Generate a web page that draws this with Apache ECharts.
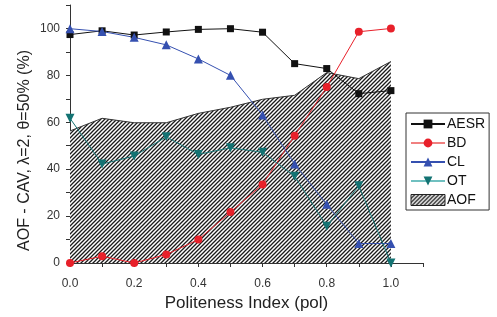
<!DOCTYPE html>
<html><head><meta charset="utf-8">
<script src="https://cdn.jsdelivr.net/npm/echarts@6/dist/echarts.min.js"></script>
<style>html,body{margin:0;padding:0;background:#fff}#c{width:497px;height:317px}</style>
</head><body><div id="c"></div>
<script>
var pol = [0.0, 0.1, 0.2, 0.3, 0.4, 0.5, 0.6, 0.7, 0.8, 0.9, 1.0];
var AESR = [97.4, 99.0, 97.2, 98.5, 99.6, 99.9, 98.4, 85.0, 82.9, 72.2, 73.5];
var BD   = [0.0, 2.9, 0.0, 3.6, 10.0, 21.7, 33.5, 54.3, 75.0, 98.6, 100.0];
var CL   = [99.9, 98.7, 96.2, 93.0, 87.0, 80.0, 63.1, 42.2, 25.0, 8.3, 8.3];
var OT   = [61.7, 42.2, 45.6, 53.8, 46.3, 49.1, 47.2, 37.0, 15.7, 32.9, 0.0];
var AOF  = [56.3, 61.7, 59.8, 59.8, 63.8, 66.4, 69.8, 71.5, 81.2, 78.6, 85.9];
var xTickLabels = ['0.0','0.2','0.4','0.6','0.8','1.0'];
var yTickLabels = ['0','20','40','60','80','100'];
var yTitle = 'AOF - CAV, λ=2, θ=50% (%)';
var xTitle = 'Politeness Index (pol)';

function pairs(v){ return pol.map(function(x,i){ return [x, v[i]]; }); }

var cv = document.createElement('canvas');
cv.width = 4; cv.height = 4;
var g = cv.getContext('2d');
g.fillStyle = '#ffffff'; g.fillRect(0,0,4,4);
g.strokeStyle = '#1a1a1a'; g.lineWidth = 1.3;
g.beginPath();
g.moveTo(-1,5); g.lineTo(5,-1);
g.moveTo(-1,1); g.lineTo(1,-1);
g.moveTo(3,5); g.lineTo(5,3);
g.stroke();
var hatch = {image: cv, repeat: 'repeat'};

var font = 'Liberation Sans, Arial, sans-serif';
var chart = echarts.init(document.getElementById('c'), null, {renderer:'canvas'});
function lineSeries(name, data, color, symbol, size, rot){
  return {name:name, type:'line', data:pairs(data), symbol:symbol, symbolSize:size, symbolRotate:rot||0,
    lineStyle:{color:color, width:1}, itemStyle:{color:color}, z:3, animation:false};
}
chart.setOption({
  animation:false,
  grid:{left:70, right:74, top:5, bottom:54},
  graphic:[{type:'text', left:17, top:50, rotation:Math.PI/2,
    style:{text:yTitle, font:'16px Liberation Sans, Arial, sans-serif', fill:'#222'}}],
  legend:{
    orient:'vertical', left:406, top:113, width:81,
    backgroundColor:'#fff', borderColor:'#333', borderWidth:1,
    padding:[4,4,3,4], itemGap:5, itemWidth:34, itemHeight:11,
    textStyle:{fontFamily:font, fontSize:14, color:'#111', lineHeight:12, padding:[0,0,0,-3]},
    data:[
      {name:'AESR'},
      {name:'BD', lineStyle:{color:'#f08080'}},
      {name:'CL'},
      {name:'OT', lineStyle:{color:'#70c0c0'}},
      {name:'AOF', icon:'rect', itemStyle:{color:hatch, borderColor:'#222', borderWidth:1}}
    ]
  },
  xAxis:{
    type:'value', min:0, max:1.1, interval:0.1,
    name:xTitle, nameLocation:'middle', nameGap:30,
    nameTextStyle:{fontFamily:font, fontSize:17, color:'#222'},
    axisLine:{lineStyle:{color:'#333'}},
    axisTick:{length:4, lineStyle:{color:'#333'}},
    splitLine:{show:false},
    axisLabel:{fontFamily:font, fontSize:12, color:'#333', margin:15,
      formatter:function(v){ var k=Math.round(v*10); if(k%2!==0||k>10) return ''; return xTickLabels[k/2]; }}
  },
  yAxis:{
    type:'value', min:0, max:110, interval:10,
    axisLine:{show:true, lineStyle:{color:'#333'}},
    axisTick:{show:true, length:4, lineStyle:{color:'#333'}},
    splitLine:{show:false},
    axisLabel:{fontFamily:font, fontSize:12, color:'#333', margin:10,
      formatter:function(v){ var k=Math.round(v/10); if(k%2!==0||k>10) return ''; return yTickLabels[k/2]; }}
  },
  series:[
    {name:'AOF', type:'line', data:pairs(AOF), symbol:'none', z:1,
     lineStyle:{color:'#333', width:1}, itemStyle:{color:'#333'},
     areaStyle:{color:hatch, opacity:1}},
    lineSeries('AESR', AESR, '#111111', 'rect', 7),
    lineSeries('BD', BD, '#e8202a', 'circle', 8),
    lineSeries('CL', CL, '#3550b0', 'triangle', 9),
    lineSeries('OT', OT, '#137373', 'triangle', 9, 180)
  ]
});
</script></body></html>
